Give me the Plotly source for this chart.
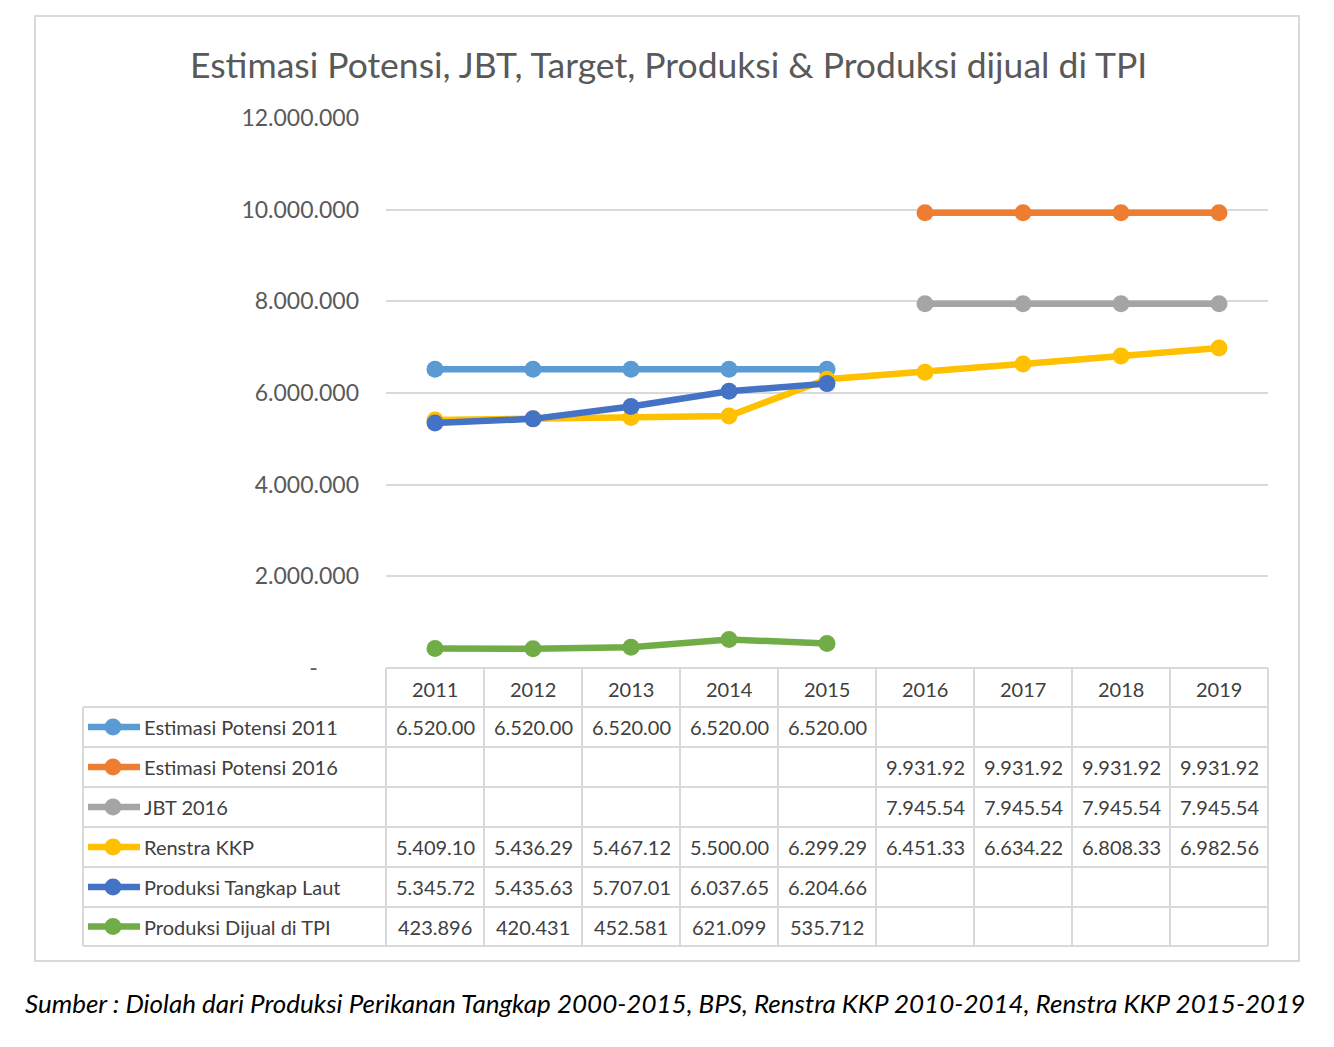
import plotly.graph_objects as go

years = ["2011", "2012", "2013", "2014", "2015", "2016", "2017", "2018", "2019"]

est_potensi_2011 = [6520000, 6520000, 6520000, 6520000, 6520000, None, None, None, None]
est_potensi_2016 = [None, None, None, None, None, 9931920, 9931920, 9931920, 9931920]
jbt_2016 = [None, None, None, None, None, 7945540, 7945540, 7945540, 7945540]
renstra_kkp = [5409100, 5436290, 5467120, 5500000, 6299290, 6451330, 6634220, 6808330, 6982560]
produksi_tangkap = [5345720, 5435630, 5707010, 6037650, 6204660, None, None, None, None]
produksi_tpi = [423896, 420431, 452581, 621099, 535712, None, None, None, None]

series_names = ["Estimasi Potensi 2011", "Estimasi Potensi 2016", "JBT 2016",
                "Renstra KKP", "Produksi Tangkap Laut", "Produksi Dijual di TPI"]
series_values = [est_potensi_2011, est_potensi_2016, jbt_2016, renstra_kkp,
                 produksi_tangkap, produksi_tpi]
series_colors = ["#5B9BD5", "#ED7D31", "#A5A5A5", "#FFC000", "#4472C4", "#70AD47"]

y_tickvals = [0, 2000000, 4000000, 6000000, 8000000, 10000000, 12000000]
y_ticktext = ["-" + "\u00a0" * 7, "2.000.000", "4.000.000", "6.000.000",
              "8.000.000", "10.000.000", "12.000.000"]

title_text = "Estimasi Potensi, JBT, Target, Produksi & Produksi dijual di TPI"
source_text = ("Sumber : Diolah dari Produksi Perikanan Tangkap 2000-2015, BPS, "
               "Renstra KKP 2010-2014, Renstra KKP 2015-2019")

W, H = 1334, 1047
FONT = "Lato"
TXT = "#404040"
GRID = "#D9D9D9"


def px(x):
    return x / W


def py(y):
    return 1 - y / H


def fmt(v):
    if v is None:
        return ""
    if v >= 1000000:
        return f"{v / 1000:,.2f}".replace(",", ".")
    return f"{v:,.0f}".replace(",", ".")


plot_l, plot_r, plot_t, plot_b = 386, 1268, 118, 668
col_w = (plot_r - plot_l) / len(years)
row_tops = [668, 707, 747, 787, 827, 867, 907, 946]
table_left = 83

fig = go.Figure()
for name, vals, col in zip(series_names, series_values, series_colors):
    fig.add_trace(go.Scatter(
        x=years, y=vals, name=name, mode="lines+markers",
        line=dict(color=col, width=6.5),
        marker=dict(color=col, size=17),
        showlegend=False,
    ))

shapes = []
annotations = []

# outer chart border
shapes.append(dict(type="rect", xref="paper", yref="paper",
                   x0=px(35), x1=px(1299), y0=py(961), y1=py(16),
                   line=dict(color=GRID, width=2)))

# table horizontal lines
shapes.append(dict(type="line", xref="paper", yref="paper",
                   x0=px(plot_l), x1=px(plot_r), y0=py(row_tops[0]), y1=py(row_tops[0]),
                   line=dict(color=GRID, width=2)))
for yy in row_tops[1:]:
    shapes.append(dict(type="line", xref="paper", yref="paper",
                       x0=px(table_left), x1=px(plot_r), y0=py(yy), y1=py(yy),
                       line=dict(color=GRID, width=2)))
# table vertical lines
for i in range(len(years) + 1):
    xx = plot_l + i * col_w
    shapes.append(dict(type="line", xref="paper", yref="paper",
                       x0=px(xx), x1=px(xx), y0=py(row_tops[0]), y1=py(row_tops[-1]),
                       line=dict(color=GRID, width=2)))
shapes.append(dict(type="line", xref="paper", yref="paper",
                   x0=px(table_left), x1=px(table_left), y0=py(row_tops[1]), y1=py(row_tops[-1]),
                   line=dict(color=GRID, width=2)))


def col_center(i):
    return px(plot_l + (i + 0.5) * col_w)


def text_ann(x, y, text, size, color, xanchor="center"):
    return dict(x=x, xref="paper", y=y, yref="paper", text=text, showarrow=False,
                xanchor=xanchor, yanchor="middle",
                font=dict(family=FONT, size=size, color=color))


# header row
for i, yr in enumerate(years):
    annotations.append(text_ann(col_center(i), py((row_tops[0] + row_tops[1]) / 2 + 1),
                                yr, 20, TXT))

# data rows with legend keys
for r, (name, vals, col) in enumerate(zip(series_names, series_values, series_colors)):
    yc = (row_tops[r + 1] + row_tops[r + 2]) / 2
    shapes.append(dict(type="line", xref="paper", yref="paper",
                       x0=px(88), x1=px(140), y0=py(yc), y1=py(yc),
                       line=dict(color=col, width=6.5)))
    shapes.append(dict(type="circle", xref="paper", yref="paper",
                       x0=px(113 - 8.5), x1=px(113 + 8.5), y0=py(yc + 8.5), y1=py(yc - 8.5),
                       fillcolor=col, line=dict(color=col, width=0)))
    annotations.append(text_ann(px(142), py(yc), name, 20, TXT, xanchor="left"))
    for i, v in enumerate(vals):
        if v is None:
            continue
        annotations.append(text_ann(col_center(i), py(yc), fmt(v), 20, TXT))

# title
annotations.append(text_ann(px(668), py(64), title_text, 35.5, "#595959"))
# source
annotations.append(text_ann(px(665), py(1003), "<i>" + source_text + "</i>", 26, "#000000"))

fig.update_layout(
    width=W, height=H,
    margin=dict(l=0, r=0, t=0, b=0, pad=0, autoexpand=False),
    paper_bgcolor="white", plot_bgcolor="white",
    showlegend=False,
    shapes=shapes,
    annotations=annotations,
    xaxis=dict(domain=[px(plot_l), px(plot_r)], type="category",
               range=[-0.5, len(years) - 0.5], showticklabels=False,
               showgrid=False, zeroline=False, showline=False, fixedrange=True,
               automargin=False),
    yaxis=dict(domain=[py(plot_b), py(plot_t)], range=[0, 12000000],
               tickvals=y_tickvals, ticktext=y_ticktext,
               showgrid=True, gridcolor=GRID, gridwidth=2,
               zeroline=False, showline=False, ticks="",
               ticklabelstandoff=26, automargin=False,
               tickfont=dict(family=FONT, size=23, color="#595959"),
               fixedrange=True),
)

fig.write_html("out.html",
               config={"displayModeBar": False},
               post_script="document.body.style.margin='0';document.body.style.overflow='hidden';")
